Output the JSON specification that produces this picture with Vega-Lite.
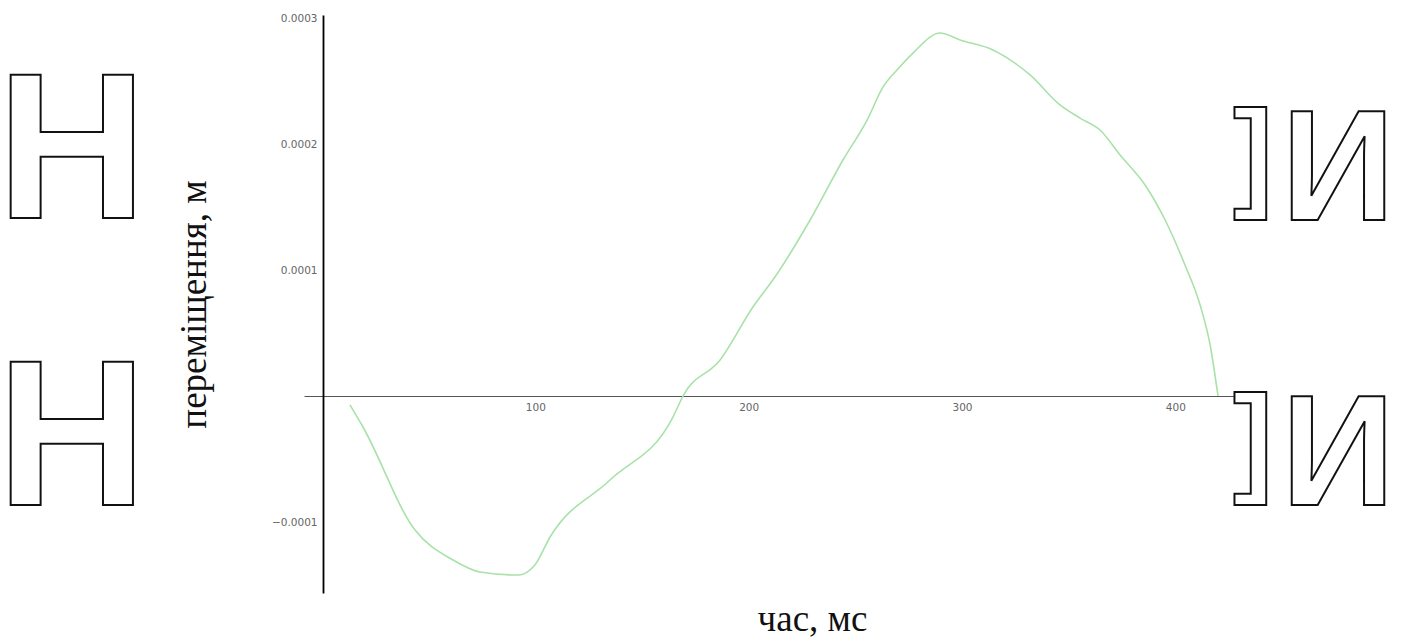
{
  "$schema": "https://vega.github.io/schema/vega-lite/v6.json",
  "autosize": {"type": "none"},
  "width": 936,
  "height": 578,
  "padding": {"left": 304, "top": 15, "right": 166, "bottom": 45},
  "background": "white",
  "config": {"view": {"stroke": null}},
  "datasets": {
    "curve": [
      {"t": 13.1, "s": -0.0000071},
      {"t": 19.2, "s": -0.0000246},
      {"t": 43.6, "s": -0.0001064},
      {"t": 61.4, "s": -0.0001302},
      {"t": 74.1, "s": -0.0001397},
      {"t": 91.9, "s": -0.0001421},
      {"t": 99.8, "s": -0.0001341},
      {"t": 106.9, "s": -0.0001119},
      {"t": 135.0, "s": -0.0000667},
      {"t": 164.5, "s": -0.0000167},
      {"t": 169.2, "s": 0.0},
      {"t": 186.6, "s": 0.0000286},
      {"t": 202.0, "s": 0.0000706},
      {"t": 212.3, "s": 0.0000944},
      {"t": 228.8, "s": 0.0001397},
      {"t": 244.2, "s": 0.0001873},
      {"t": 255.5, "s": 0.000219},
      {"t": 263.0, "s": 0.0002453},
      {"t": 269.5, "s": 0.0002587},
      {"t": 277.0, "s": 0.0002722},
      {"t": 289.7, "s": 0.0002881},
      {"t": 299.1, "s": 0.0002826},
      {"t": 314.5, "s": 0.0002746},
      {"t": 331.9, "s": 0.0002548},
      {"t": 345.9, "s": 0.000231},
      {"t": 355.3, "s": 0.0002206},
      {"t": 364.7, "s": 0.0002111},
      {"t": 374.1, "s": 0.0001913},
      {"t": 385.8, "s": 0.0001675},
      {"t": 395.2, "s": 0.0001397},
      {"t": 404.5, "s": 0.000104},
      {"t": 411.6, "s": 0.0000722},
      {"t": 416.3, "s": 0.0000405},
      {"t": 420.0, "s": 0.0}
    ],
    "bigH": [
      {"t": -117.2, "s": 0.0001413, "g": "Н"},
      {"t": -117.2, "s": -0.0000865, "g": "Н"}
    ],
    "bigI": [
      {"t": 476.3, "s": 0.0001397, "g": "И"},
      {"t": 476.3, "s": -0.0000865, "g": "И"}
    ],
    "brk": [
      {"t": 445.8, "s": 0.0001595, "g": "]"},
      {"t": 445.8, "s": -0.0000667, "g": "]"}
    ]
  },
  "layer": [
    {
      "data": {"name": "curve"},
      "mark": {"type": "line", "color": "#a9e2a9", "strokeWidth": 1.6, "interpolate": "monotone"},
      "encoding": {
        "x": {
          "field": "t", "type": "quantitative",
          "scale": {"domain": [-8.44, 430.3], "nice": false, "zero": false},
          "axis": {
            "orient": "bottom", "offset": -197, "values": [100, 200, 300, 400], "format": "d",
            "grid": false, "ticks": false, "domainColor": "#555", "domainWidth": 1.2,
            "labelFont": "DejaVu Sans", "labelFontSize": 10.5, "labelColor": "#666", "labelPadding": 6,
            "title": "час, мс", "titleFont": "Liberation Serif", "titleFontSize": 37, "titleFontWeight": "normal",
            "titleColor": "#111", "titleX": 508, "titleY": 234, "titleAlign": "center", "titleBaseline": "alphabetic"
          }
        },
        "y": {
          "field": "s", "type": "quantitative",
          "scale": {"domain": [-0.00015635, 0.0003024], "nice": false, "zero": false},
          "axis": {
            "orient": "left", "offset": -19, "values": [-0.0001, 0.0001, 0.0002, 0.0003], "format": ".4f",
            "grid": false, "ticks": false, "domainColor": "#000", "domainWidth": 1.8,
            "labelFont": "DejaVu Sans", "labelFontSize": 10.5, "labelColor": "#666", "labelPadding": 6,
            "title": "переміщення, м", "titleFont": "Liberation Serif", "titleFontSize": 37, "titleFontWeight": "normal",
            "titleColor": "#111", "titleX": -118, "titleY": 289, "titleAlign": "center", "titleBaseline": "alphabetic", "titleAngle": 270
          }
        }
      }
    },
    {
      "data": {"name": "bigH"},
      "mark": {"type": "text", "font": "Liberation Sans Narrow, Liberation Sans, sans-serif", "fontWeight": "bold", "fontSize": 208,
               "fill": "white", "stroke": "#111", "strokeWidth": 2, "align": "center", "baseline": "alphabetic"},
      "encoding": {
        "x": {"field": "t", "type": "quantitative"},
        "y": {"field": "s", "type": "quantitative"},
        "text": {"field": "g"}
      }
    },
    {
      "data": {"name": "bigI"},
      "mark": {"type": "text", "font": "Liberation Sans Narrow, Liberation Sans, sans-serif", "fontWeight": "bold", "fontSize": 158,
               "fill": "white", "stroke": "#111", "strokeWidth": 2, "align": "center", "baseline": "alphabetic"},
      "encoding": {
        "x": {"field": "t", "type": "quantitative"},
        "y": {"field": "s", "type": "quantitative"},
        "text": {"field": "g"}
      }
    },
    {
      "data": {"name": "brk"},
      "mark": {"type": "text", "font": "Liberation Sans Narrow, Liberation Sans, sans-serif", "fontWeight": "bold", "fontSize": 120,
               "fill": "white", "stroke": "#111", "strokeWidth": 2, "align": "right", "baseline": "alphabetic"},
      "encoding": {
        "x": {"field": "t", "type": "quantitative"},
        "y": {"field": "s", "type": "quantitative"},
        "text": {"field": "g"}
      }
    }
  ]
}
